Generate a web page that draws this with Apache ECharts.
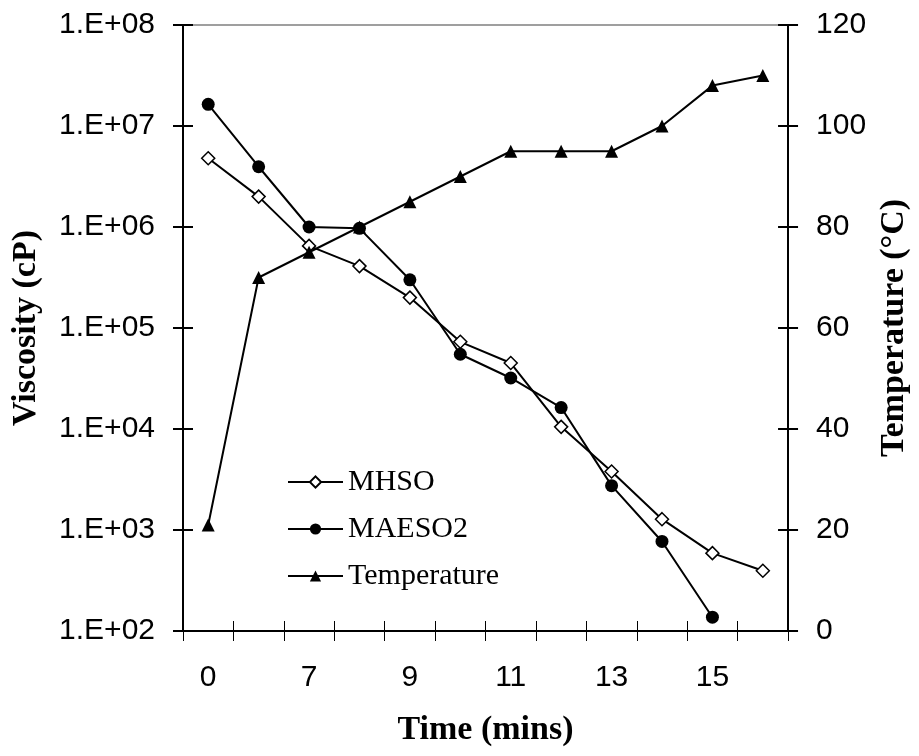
<!DOCTYPE html>
<html>
<head>
<meta charset="utf-8">
<script src="https://cdn.jsdelivr.net/npm/echarts@6/dist/echarts.min.js"></script>
<style>
html,body{margin:0;padding:0;background:#fff;}
#chart{width:919px;height:756px;}
</style>
</head>
<body>
<div id="chart"></div>
<script>
// Time categories (only every other one is labelled)
var categories = ['0', '5', '7', '8', '9', '10', '11', '12', '13', '14', '15', '16'];
// Viscosity (cP)
var mhso = [4.8e6, 2.0e6, 6.5e5, 4.1e5, 2.0e5, 7.3e4, 4.5e4, 1.05e4, 3.8e3, 1.28e3, 590, 395];
var maeso2 = [1.64e7, 3.95e6, 1.0e6, 9.7e5, 3.0e5, 5.5e4, 3.2e4, 1.63e4, 2.75e3, 770, 137, null];
// Temperature (°C)
var temperature = [21, 70, 75, 80, 85, 90, 95, 95, 95, 100, 108, 110];

var SANS = 'Liberation Sans';
var SERIF = 'Liberation Serif';

function sciLabel(v) {
  var e = Math.round(Math.log10(v));
  return '1.E+' + (e < 10 ? '0' : '') + e;
}

var chart = echarts.init(document.getElementById('chart'), null, {renderer: 'canvas'});
var axisLineStyle = {color: '#000', width: 2};

chart.setOption({
  animation: false,
  backgroundColor: '#fff',
  grid: {left: 183, right: 112, top: 25, bottom: 125, show: true, borderColor: '#808080', borderWidth: 1.5, backgroundColor: 'transparent'},
  legend: {
    orient: 'vertical',
    left: 282, top: 461,
    itemWidth: 55, itemHeight: 14, itemGap: 15,
    textStyle: {fontFamily: SERIF, fontSize: 30, color: '#000', padding: [0, 0, 0, 0], lineHeight: 32},
    data: ['MHSO', 'MAESO2', 'Temperature']
  },
  xAxis: [
    {
      type: 'category', position: 'bottom', data: categories, boundaryGap: true,
      axisLine: {show: true, lineStyle: axisLineStyle},
      axisTick: {show: true, interval: 0, length: 10, lineStyle: {color: '#000', width: 1}},
      axisLabel: {interval: 1, margin: 32, fontFamily: SANS, fontSize: 30, color: '#000'},
      name: 'Time (mins)', nameLocation: 'middle', nameGap: 82,
      nameTextStyle: {fontFamily: SERIF, fontWeight: 'bold', fontSize: 34, color: '#000'},
      splitLine: {show: false}
    },
    {
      type: 'category', position: 'bottom', data: categories, boundaryGap: true,
      axisLine: {show: false},
      axisTick: {show: true, inside: true, interval: 0, length: 10, lineStyle: {color: '#000', width: 1}},
      axisLabel: {show: false},
      splitLine: {show: false}
    }
  ],
  yAxis: [
    {
      type: 'log', logBase: 10, position: 'left', min: 100, max: 1e8, interval: 1,
      axisLine: {show: true, lineStyle: axisLineStyle},
      axisTick: {show: true, length: 10, lineStyle: {color: '#000', width: 2}},
      axisLabel: {margin: 28, fontFamily: SANS, fontSize: 30, color: '#000', formatter: sciLabel},
      minorTick: {show: false},
      splitLine: {show: false},
      name: 'Viscosity (cP)', nameLocation: 'middle', nameGap: 140,
      nameTextStyle: {fontFamily: SERIF, fontWeight: 'bold', fontSize: 34, color: '#000'}
    },
    {
      type: 'value', position: 'right', min: 0, max: 120, interval: 20,
      axisLine: {show: true, lineStyle: axisLineStyle},
      axisTick: {show: true, length: 10, lineStyle: {color: '#000', width: 2}},
      axisLabel: {margin: 28, fontFamily: SANS, fontSize: 30, color: '#000'},
      splitLine: {show: false},
      name: 'Temperature (°C)', nameLocation: 'middle', nameGap: 78,
      nameTextStyle: {fontFamily: SERIF, fontWeight: 'bold', fontSize: 34, color: '#000'}
    },
    {
      type: 'log', logBase: 10, position: 'left', min: 100, max: 1e8, interval: 1,
      axisLine: {show: false},
      axisTick: {show: true, inside: true, length: 10, lineStyle: {color: '#000', width: 2}},
      axisLabel: {show: false},
      splitLine: {show: false}
    },
    {
      type: 'value', position: 'right', min: 0, max: 120, interval: 20,
      axisLine: {show: false},
      axisTick: {show: true, inside: true, length: 10, lineStyle: {color: '#000', width: 2}},
      axisLabel: {show: false},
      splitLine: {show: false}
    }
  ],
  series: [
    {
      name: 'MHSO', type: 'line', xAxisIndex: 0, yAxisIndex: 0, data: mhso,
      symbol: 'diamond', symbolSize: 13, showAllSymbol: true,
      lineStyle: {color: '#000', width: 2},
      itemStyle: {color: '#fff', borderColor: '#000', borderWidth: 1.5},
      z: 3
    },
    {
      name: 'MAESO2', type: 'line', xAxisIndex: 0, yAxisIndex: 0, data: maeso2,
      symbol: 'circle', symbolSize: 13, showAllSymbol: true,
      lineStyle: {color: '#000', width: 2},
      itemStyle: {color: '#000', borderColor: '#000', borderWidth: 0},
      z: 3
    },
    {
      name: 'Temperature', type: 'line', xAxisIndex: 0, yAxisIndex: 1, data: temperature,
      symbol: 'triangle', symbolSize: 13, showAllSymbol: true,
      lineStyle: {color: '#000', width: 2},
      itemStyle: {color: '#000', borderColor: '#000', borderWidth: 0},
      z: 3
    }
  ]
});
</script>
</body>
</html>
